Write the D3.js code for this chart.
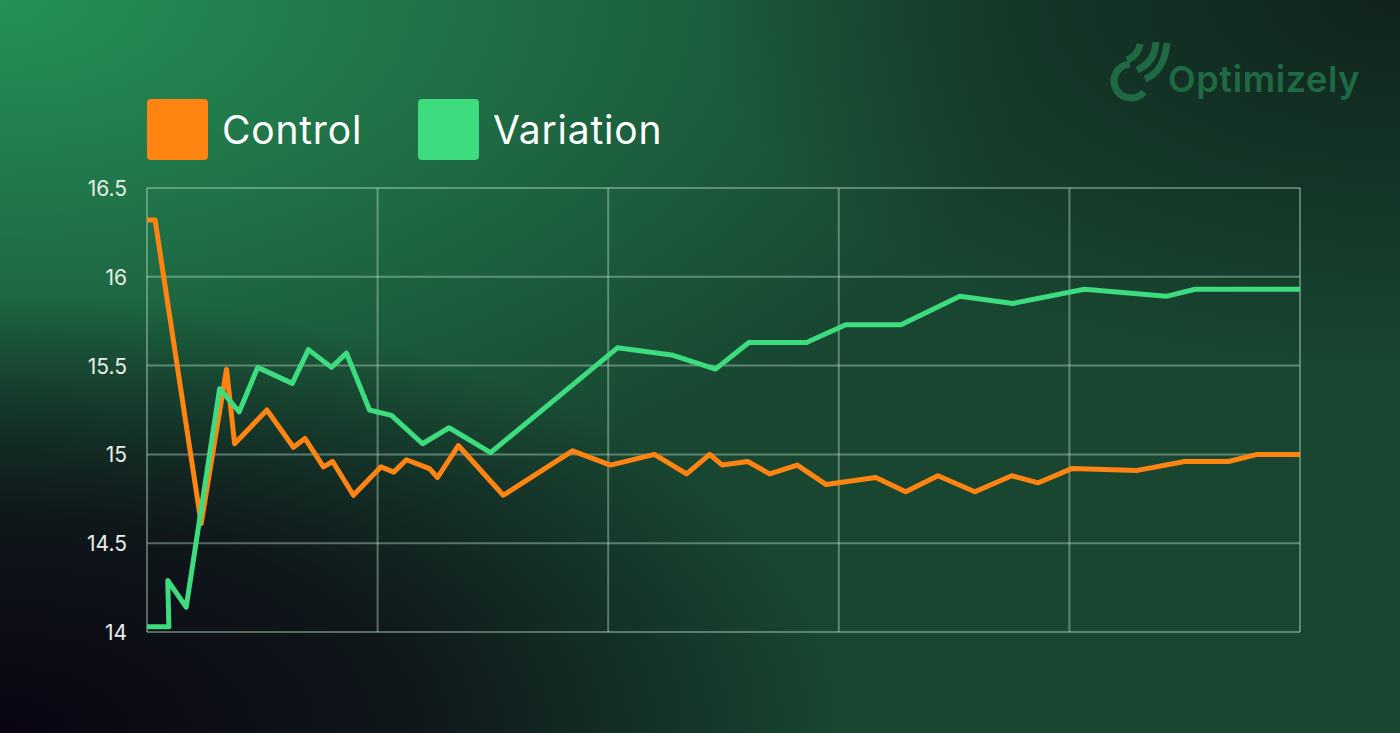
<!DOCTYPE html>
<html><head><meta charset="utf-8">
<script src="https://cdn.jsdelivr.net/npm/d3@7"></script>
<style>html,body{margin:0;padding:0;background:#000}svg{display:block}</style>
</head><body><svg id="c" width="1400" height="733"></svg>
<script>
const controlX=[0,0.7,4.7,6.9,7.6,10.4,12.7,13.7,15.3,16.1,17.9,20.3,21.4,22.5,24.5,25.2,27.0,30.9,36.9,40.2,44.0,46.8,48.8,49.9,52.1,54.0,56.4,58.9,63.2,65.8,68.6,71.8,75.0,77.3,80.2,85.9,90.0,93.8,96.3,100];
const controlY=[16.32,16.32,14.61,15.48,15.06,15.25,15.04,15.09,14.93,14.96,14.77,14.93,14.90,14.97,14.92,14.87,15.05,14.77,15.02,14.94,15.00,14.89,15.00,14.94,14.96,14.89,14.94,14.83,14.87,14.79,14.88,14.79,14.88,14.84,14.92,14.91,14.96,14.96,15.00,15.00];
const variationX=[0,1.9,1.8,3.4,6.3,8.0,9.6,12.6,14.0,16.0,17.3,19.3,21.2,23.9,26.2,29.8,40.8,45.5,49.3,52.2,57.2,60.6,65.4,70.5,75.1,81.3,88.4,90.9,100];
const variationY=[14.03,14.03,14.29,14.14,15.37,15.24,15.49,15.40,15.59,15.49,15.57,15.25,15.22,15.06,15.15,15.01,15.60,15.56,15.48,15.63,15.63,15.73,15.73,15.89,15.85,15.93,15.89,15.93,15.93];
const yTicks=[14,14.5,15,15.5,16,16.5];
const yTickLabels=["14","14.5","15","15.5","16","16.5"];
const xTicks=[0,20,40,60,80,100];
const series=[{name:"Control",color:"#ff8412",x:controlX,y:controlY},{name:"Variation",color:"#3ddc7e",x:variationX,y:variationY}];

const svg=d3.select("#c");
const defs=svg.append("defs");
const g1=defs.append("radialGradient").attr("id","tl").attr("cx","0").attr("cy","0").attr("r","0.75");
g1.append("stop").attr("offset","0").attr("stop-color","#259157");
g1.append("stop").attr("offset","1").attr("stop-color","#259157").attr("stop-opacity",0);
const g2=defs.append("radialGradient").attr("id","bl").attr("cx","0").attr("cy","1").attr("r","0.6");
g2.append("stop").attr("offset","0").attr("stop-color","#0a0312");
g2.append("stop").attr("offset","0.5").attr("stop-color","#0e1218").attr("stop-opacity",0.9);
g2.append("stop").attr("offset","1").attr("stop-color","#0e1218").attr("stop-opacity",0);
const g3=defs.append("radialGradient").attr("id","tr").attr("cx","1").attr("cy","0").attr("r","0.5");
g3.append("stop").attr("offset","0").attr("stop-color","#10231c");
g3.append("stop").attr("offset","1").attr("stop-color","#10231c").attr("stop-opacity",0);
svg.append("rect").attr("width",1400).attr("height",733).attr("fill","#184631");
svg.append("rect").attr("width",1400).attr("height",733).attr("fill","url(#tl)");
svg.append("rect").attr("width",1400).attr("height",733).attr("fill","url(#tr)");
svg.append("rect").attr("width",1400).attr("height",733).attr("fill","url(#bl)");

const x=d3.scaleLinear().domain([0,100]).range([147,1300]);
const y=d3.scaleLinear().domain([14,16.5]).range([632,188]);
const grid="rgba(190,225,200,0.42)";
svg.append("g").selectAll("line").data(yTicks).join("line")
 .attr("x1",147).attr("x2",1300).attr("y1",d=>y(d)).attr("y2",d=>y(d)).attr("stroke",grid).attr("stroke-width",2);
svg.append("g").selectAll("line").data(xTicks).join("line")
 .attr("y1",188).attr("y2",632).attr("x1",d=>x(d)).attr("x2",d=>x(d)).attr("stroke",grid).attr("stroke-width",2);
svg.append("g").selectAll("text").data(yTicks).join("text")
 .attr("x",127).attr("y",d=>y(d)+8).attr("text-anchor","end").attr("fill","#e8efe9")
 .style("font-family","Inter, sans-serif").style("font-size","21px").text((d,i)=>yTickLabels[i]);

const line=d3.line().x(d=>x(d[0])).y(d=>y(d[1]));
series.forEach(s=>{
 svg.append("path").datum(s.x.map((v,i)=>[v,s.y[i]])).attr("d",line).attr("fill","none")
  .attr("stroke",s.color).attr("stroke-width",5).attr("stroke-linejoin","round");
});
const lx=[147,418];
series.forEach((s,i)=>{
 svg.append("rect").attr("x",lx[i]).attr("y",99).attr("width",61).attr("height",61).attr("rx",4).attr("fill",s.color);
 svg.append("text").attr("x",lx[i]+75).attr("y",144).attr("fill","#ffffff")
  .style("font-family","Inter, sans-serif").style("font-size","39px").style("letter-spacing","0.8px").text(s.name);
});
const lg=svg.append("g").attr("fill","none").attr("stroke","#1f6a43").attr("stroke-width",7);
lg.append("path").attr("d","M1130,64 A17,17 0 1 0 1144,92");
lg.append("path").attr("d","M1127,60 Q1138,56 1140,44");
lg.append("path").attr("d","M1137,70 Q1155,62 1156,42");
lg.append("path").attr("d","M1145,79 Q1164,72 1167,43");
svg.append("text").attr("x",1168).attr("y",92).attr("fill","#1f6a43")
 .style("font-family","Inter, sans-serif").style("font-weight","600").style("font-size","36px").style("letter-spacing","0.6px").text("Optimizely");
</script></body></html>
